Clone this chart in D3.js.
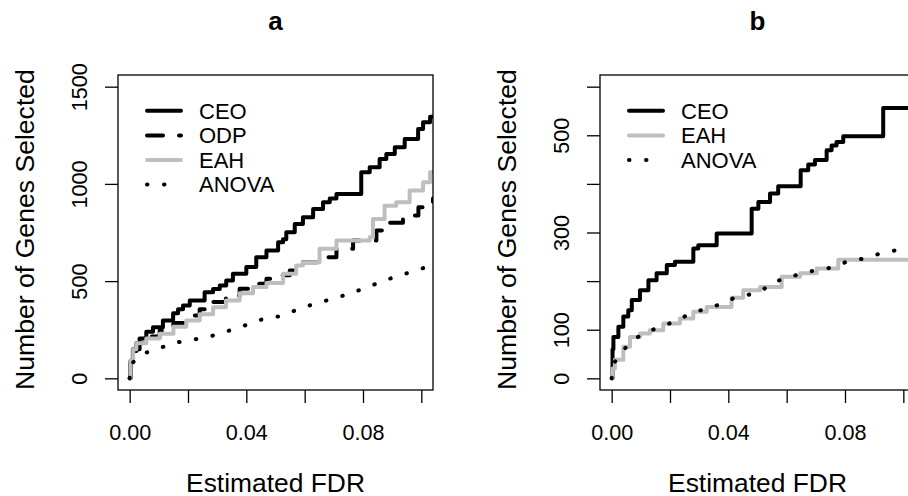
<!DOCTYPE html>
<html>
<head>
<meta charset="utf-8">
<script src="https://cdn.jsdelivr.net/npm/d3@7"></script>
<style>
    body { margin: 0; background: #fff; }
    text { font-family: "Liberation Sans", Arial, Helvetica, sans-serif; fill: #000; }
</style>
</head>
<body>
<div id="chart"></div>
<script>
// ---- data: [estimated FDR, number of genes selected] ----
var ceoA = [[0,0],[0.0003,90],[0.0011,150],[0.0034,205],[0.0057,240],[0.008,263],[0.0114,298],[0.0149,335],
    [0.0166,355],[0.0183,375],[0.0206,400],[0.0257,443],[0.0286,460],[0.0309,478],[0.0331,503],[0.0354,538],
    [0.04,572],[0.0434,623],[0.0469,657],[0.0509,700],[0.0526,715],[0.0537,751],[0.0566,794],[0.0594,828],
    [0.0629,871],[0.0663,906],[0.0686,925],[0.0709,948],[0.0794,1060],[0.0823,1085],[0.0857,1128],[0.088,1154],
    [0.0909,1188],[0.0943,1231],[0.0989,1282],[0.1006,1317],[0.103,1345],[0.105,1360]];
var odpA = [[0,0],[0.0003,80],[0.0012,140],[0.0023,180],[0.0057,215],[0.0103,246],[0.015,285],[0.0194,323],
    [0.024,355],[0.0286,392],[0.033,425],[0.0377,461],[0.042,486],[0.0469,512],[0.0507,530],[0.0549,555],
    [0.0594,597],[0.0663,623],[0.0709,666],[0.0766,709],[0.0846,760],[0.089,800],[0.0937,837],[0.099,880],[0.104,925]];
var eahA = [[0,0],[0.0003,90],[0.0012,150],[0.0023,180],[0.0057,205],[0.0103,229],[0.015,265],[0.0194,298],
    [0.024,330],[0.0286,366],[0.033,400],[0.0377,438],[0.0423,470],[0.0469,490],[0.0526,538],[0.0571,580],
    [0.0594,597],[0.0651,666],[0.0709,709],[0.0823,726],[0.0834,820],[0.0874,888],[0.0914,906],[0.096,966],
    [0.1006,1009],[0.103,1060],[0.105,1060]];
var anovaA = [[0,0],[0.0003,50],[0.0006,75],[0.0046,127],[0.0097,152],[0.0149,181],[0.02,195],[0.0257,209],
    [0.0309,229],[0.036,255],[0.0406,277],[0.0457,305],[0.0509,318],[0.0617,375],[0.0754,435],[0.0891,512],[0.1034,580]];

var ceoB = [[0,0],[0.0003,60],[0.0006,85],[0.0023,106],[0.004,127],[0.0057,140],[0.0069,161],[0.0097,181],
    [0.0126,202],[0.0154,216],[0.0189,233],[0.0217,240],[0.028,267],[0.0297,274],[0.036,298],[0.048,349],
    [0.0503,363],[0.0543,380],[0.0571,395],[0.0648,428],[0.0674,440],[0.0697,449],[0.0737,469],[0.0754,479],
    [0.0771,486],[0.0794,498],[0.0931,556],[0.11,556]];
var eahB = [[0,0],[0.0003,20],[0.0011,38],[0.004,65],[0.0063,85],[0.0097,92],[0.0131,99],[0.0177,113],
    [0.0234,123],[0.028,137],[0.0326,147],[0.0411,166],[0.0451,181],[0.0509,188],[0.0583,209],[0.0646,216],
    [0.0703,226],[0.0777,244],[0.11,244]];
var anovaB = [[0,0],[0.0011,34],[0.004,58],[0.0076,80],[0.0122,96],[0.0169,106],[0.022,118],[0.0266,132],
    [0.0316,142],[0.0366,151],[0.0415,164],[0.0465,171],[0.0516,181],[0.0554,198],[0.0604,207],[0.0653,216],
    [0.0703,223],[0.0758,228],[0.0806,240],[0.086,246],[0.0911,255],[0.0962,262],[0.1016,267],[0.105,270]];

var xTicks = [0, 0.02, 0.04, 0.06, 0.08, 0.10];
var xLabels = ["0.00", "", "0.04", "", "0.08", ""];
var yTicksA = [0, 500, 1000, 1500];
var yLabelsA = ["0", "500", "1000", "1500"];
var yTicksB = [0, 100, 200, 300, 400, 500, 600];
var yLabelsB = ["0", "100", "", "300", "", "500", ""];

// line styles
var styles = {
    CEO:   { color: "#000", dash: null },
    ODP:   { color: "#000", dash: "16,16" },
    EAH:   { color: "#bebebe", dash: null },
    ANOVA: { color: "#000", dash: "0.5,16.5" }
};

var W = 908, H = 496;
var svg = d3.select("#chart").append("svg")
    .attr("width", W)
    .attr("height", H);

function drawPanel(cfg) {
    var left = cfg.left, top = 75, pw = 315, ph = 315;

    var x = d3.scaleLinear().domain([-0.004, 0.104]).range([left, left + pw]);
    var y = d3.scaleLinear().domain(cfg.yDomain).range([top + ph, top]);

    var g = svg.append("g");

    // clip the curves to the plot region
    g.append("clipPath").attr("id", "clip" + cfg.id)
        .append("rect")
        .attr("x", left).attr("y", top).attr("width", pw).attr("height", ph);

    var curves = g.append("g").attr("clip-path", "url(#clip" + cfg.id + ")");

    cfg.series.forEach(function (s) {
        var st = styles[s.name];
        var line = d3.line()
            .x(function (d) { return x(d[0]); })
            .y(function (d) { return y(d[1]); })
            .curve(s.name === "ANOVA" ? d3.curveLinear : d3.curveStepAfter);
        curves.append("path")
            .datum(s.data)
            .attr("d", line)
            .attr("fill", "none")
            .attr("stroke", st.color)
            .attr("stroke-width", 4)
            .attr("stroke-linecap", "round")
            .attr("stroke-linejoin", "round")
            .attr("stroke-dasharray", st.dash);
    });

    // box
    g.append("rect")
        .attr("x", left).attr("y", top).attr("width", pw).attr("height", ph)
        .attr("fill", "none").attr("stroke", "#000").attr("stroke-width", 1.3);

    // x axis
    var xAxis = g.append("g")
        .attr("transform", "translate(0," + (top + ph) + ")")
        .call(d3.axisBottom(x).tickValues(xTicks).tickSize(13)
            .tickFormat(function (d, i) { return xLabels[i]; }));
    xAxis.select(".domain").remove();
    xAxis.selectAll("line").attr("stroke", "#000").attr("stroke-width", 1.3);
    xAxis.selectAll("text")
        .attr("y", 50).attr("dy", null)
        .style("font-size", "21.6px")
        .style("font-family", "Liberation Sans, Arial, sans-serif");

    // y axis
    var yAxis = g.append("g")
        .attr("transform", "translate(" + left + ",0)")
        .call(d3.axisLeft(y).tickValues(cfg.yTicks).tickSize(13)
            .tickFormat(function (d, i) { return cfg.yLabels[i]; }));
    yAxis.select(".domain").remove();
    yAxis.selectAll("line").attr("stroke", "#000").attr("stroke-width", 1.3);
    yAxis.selectAll("text")
        .attr("x", null).attr("dy", null)
        .attr("transform", "translate(-31.5,0) rotate(-90)")
        .attr("text-anchor", "middle")
        .style("font-size", "21.6px")
        .style("font-family", "Liberation Sans, Arial, sans-serif");

    // axis titles and panel title
    g.append("text")
        .attr("x", left + pw / 2).attr("y", 491.5)
        .attr("text-anchor", "middle")
        .style("font-size", "26.4px")
        .text("Estimated FDR");
    g.append("text")
        .attr("transform", "translate(" + (left - 84.5) + "," + (top + ph / 2 - 3) + ") rotate(-90)")
        .attr("text-anchor", "middle")
        .style("font-size", "26.6px")
        .text("Number of Genes Selected");
    g.append("text")
        .attr("x", left + pw / 2).attr("y", 30)
        .attr("text-anchor", "middle")
        .style("font-size", "26px")
        .style("font-weight", "bold")
        .text(cfg.title);

    // legend (no box)
    var leg = g.append("g");
    cfg.series.forEach(function (s, i) {
        var st = styles[s.name];
        var ly = 110.8 + i * 24.6;
        leg.append("line")
            .attr("x1", left + 29).attr("x2", left + 63)
            .attr("y1", ly).attr("y2", ly)
            .attr("stroke", st.color)
            .attr("stroke-width", 4)
            .attr("stroke-linecap", "round")
            .attr("stroke-dasharray", st.dash);
        leg.append("text")
            .attr("x", left + 81).attr("y", ly + 7.8)
            .style("font-size", "22px")
            .text(s.name);
    });
}

drawPanel({
    id: "a", title: "a", left: 118,
    yDomain: [-60, 1560], yTicks: yTicksA, yLabels: yLabelsA,
    series: [
        { name: "CEO", data: ceoA },
        { name: "ODP", data: odpA },
        { name: "EAH", data: eahA },
        { name: "ANOVA", data: anovaA }
    ]
});

drawPanel({
    id: "b", title: "b", left: 600,
    yDomain: [-24, 624], yTicks: yTicksB, yLabels: yLabelsB,
    series: [
        { name: "CEO", data: ceoB },
        { name: "EAH", data: eahB },
        { name: "ANOVA", data: anovaB }
    ]
});
</script>
</body>
</html>
